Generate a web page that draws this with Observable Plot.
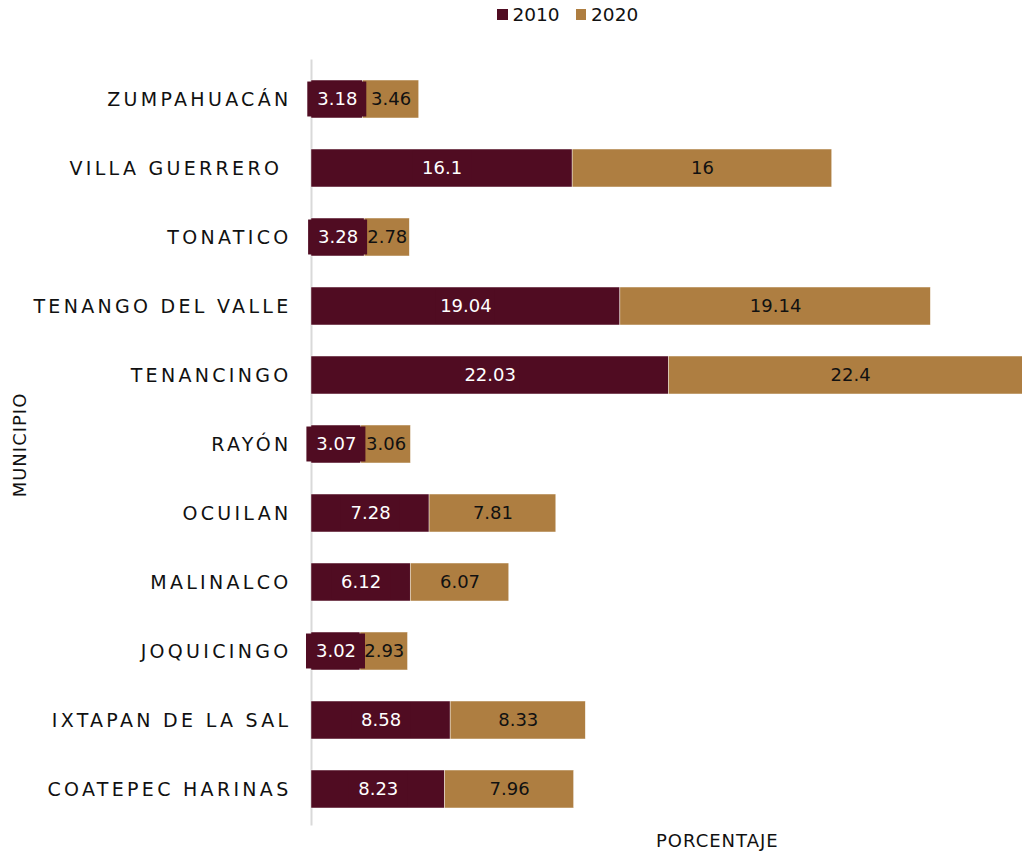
<!DOCTYPE html>
<html>
<head>
<meta charset="utf-8">
<script src="https://cdn.jsdelivr.net/npm/d3@7"></script>
<script src="https://cdn.jsdelivr.net/npm/@observablehq/plot@0.6"></script>
<style>
  html, body { margin: 0; padding: 0; background: #fff; }
  body { width: 1022px; height: 854px; position: relative; overflow: hidden; font-family: "DejaVu Sans", Verdana, sans-serif; }
  #chart { position: absolute; left: 0; top: 0; }
  .legend { position: absolute; top: 4px; left: 497px; display: flex; align-items: center; font-size: 18.5px; color: #111; }
  .legend .sw { width: 10.5px; height: 10.5px; display: inline-block; margin-right: 5px; }
  .legend .item { display: flex; align-items: center; margin-right: 16px; }
  .xtitle { position: absolute; left: 656px; top: 830px; font-size: 18px; letter-spacing: 1px; color: #111; }
  .ytitle { position: absolute; left: 19px; top: 445px; font-size: 18px; letter-spacing: 1px; color: #111; transform: translate(-50%, -50%) rotate(-90deg); white-space: nowrap; }
  .ylab text { letter-spacing: 3.3px; }
</style>
</head>
<body>
<div id="chart"></div>
<div class="legend" id="legend"></div>
<div class="xtitle">PORCENTAJE</div>
<div class="ytitle">MUNICIPIO</div>
<script>
const municipios = ["ZUMPAHUACÁN", "VILLA GUERRERO ", "TONATICO", "TENANGO DEL VALLE", "TENANCINGO", "RAYÓN", "OCUILAN", "MALINALCO", "JOQUICINGO", "IXTAPAN DE LA SAL", "COATEPEC HARINAS"];
const v2010 = [3.18, 16.1, 3.28, 19.04, 22.03, 3.07, 7.28, 6.12, 3.02, 8.58, 8.23];
const v2020 = [3.46, 16, 2.78, 19.14, 22.4, 3.06, 7.81, 6.07, 2.93, 8.33, 7.96];
const years = ["2010", "2020"];
const colors = ["#500c22", "#ae7e41"];
const textColors = ["#ffffff", "#111111"];

const rows = [];
municipios.forEach((m, i) => {
  rows.push({m, year: "2010", v: v2010[i]});
  rows.push({m, year: "2020", v: v2020[i]});
});
const boxes = municipios.map((m, i) => ({m, mid: v2010[i] / 2}));

const chart = Plot.plot({
  width: 1022,
  height: 854,
  marginLeft: 311,
  marginRight: 0,
  marginTop: 64.5,
  marginBottom: 30.5,
  style: {fontFamily: "'DejaVu Sans', Verdana, sans-serif", background: "#fff"},
  x: {domain: [0, 43.83], axis: null},
  y: {domain: municipios, paddingInner: 0.45, paddingOuter: 0.225, round: false, label: null},
  color: {domain: years, range: colors},
  marks: [
    Plot.ruleX([0], {stroke: "#d9d9d9", strokeWidth: 2, insetTop: -5, insetBottom: -2}),
    Plot.barX(rows, Plot.stackX({x: "v", y: "m", fill: "year", order: years, stroke: "#ffffff", strokeWidth: 0.6, strokeOpacity: 0.7, clip: true})),
    Plot.rect(boxes, {x1: "mid", x2: "mid", y: "m", fill: colors[0], insetLeft: -29.5, insetRight: -29.5, insetTop: 1.5, insetBottom: 1.5}),
    Plot.textX(rows, Plot.stackX({x: "v", y: "m", order: years, text: d => String(d.v), fill: d => d.year === "2010" ? textColors[0] : textColors[1], fontSize: 18})),
    Plot.axisY({tickSize: 0, tickPadding: 20, fontSize: 19, fill: "#111", className: "ylab", label: null})
  ]
});
document.getElementById("chart").appendChild(chart);

const leg = document.getElementById("legend");
years.forEach((y, i) => {
  const it = document.createElement("div");
  it.className = "item";
  it.innerHTML = `<span class="sw" style="background:${colors[i]}"></span><span>${y}</span>`;
  leg.appendChild(it);
});
</script>
</body>
</html>
